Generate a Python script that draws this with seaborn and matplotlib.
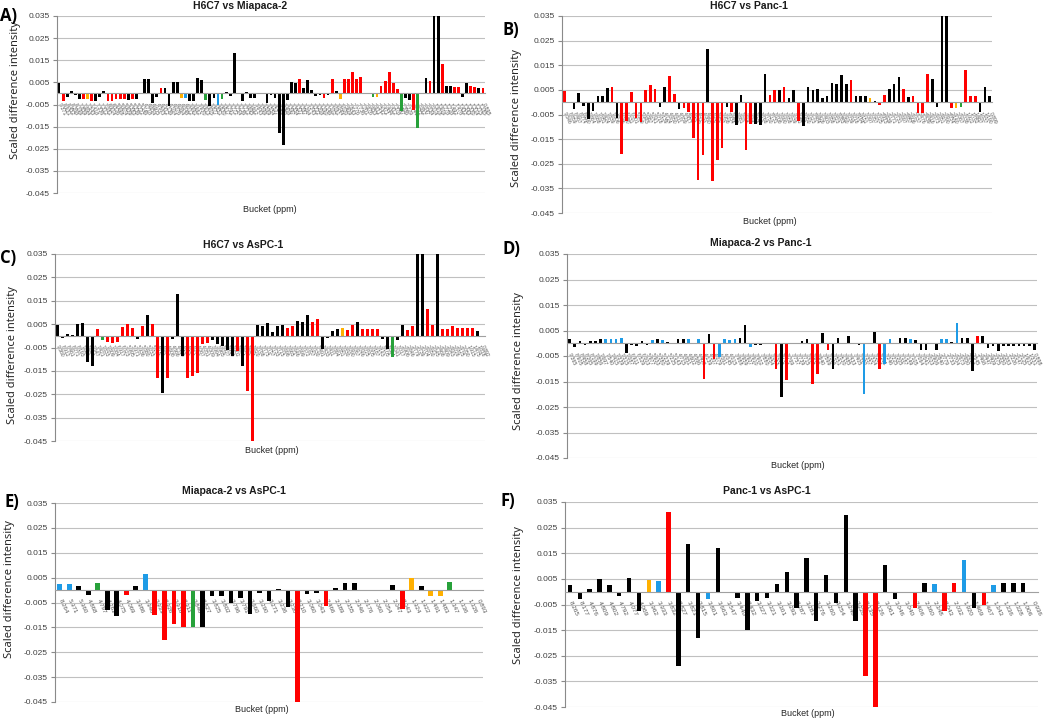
import numpy as np
import pandas as pd
import matplotlib
matplotlib.use("Agg")
import matplotlib.pyplot as plt
import seaborn as sns

sns.set_theme(style="white")
plt.rcParams["font.family"] = ["Liberation Sans", "DejaVu Sans"]

# ---- data: scaled difference intensity per bucket, class code per bar ----
# class codes: k = black, r = red, o = orange, b = blue, g = green
vals_a = [0.0045, -0.0035, -0.0015, 0.001, -0.0005, -0.0025, -0.0025, -0.0025, -0.0035, -0.0035,
          -0.0015, 0.001, -0.0035, -0.0035, -0.0025, -0.0025, -0.0025, -0.003, -0.0025, -0.0025,
          0.0, 0.0065, 0.0065, -0.0045, -0.0015, 0.0025, 0.0025, -0.0055, 0.005, 0.005,
          -0.002, -0.002, -0.0035, -0.0035, 0.007, 0.006, -0.003, -0.0055, -0.002, -0.005,
          -0.0025, 0.0005, -0.001, 0.0185, 0.0, -0.0035, 0.0005, -0.002, -0.002, 0.0,
          0.0003, -0.0045, -0.0008, -0.002, -0.018, -0.0235, -0.003, 0.005, 0.0045, 0.0065,
          0.0025, 0.006, 0.0015, -0.001, -0.0008, -0.002, -0.0008, 0.0065, 0.0012, -0.0025,
          0.0065, 0.0065, 0.0095, 0.0065, 0.0075, 0.0003, 0.0003, -0.0015, -0.0015, 0.0035,
          0.0055, 0.0095, 0.0045, 0.002, -0.008, -0.002, -0.003, -0.0075, -0.0155, 0.0,
          0.007, 0.0055, 0.04, 0.04, 0.0135, 0.0035, 0.0035, 0.003, 0.003, -0.0015,
          0.0045, 0.0035, 0.003, 0.0025, 0.0025]
cls_a = ("krkkkkrork" "kkrrrrrkrk" "kkkkkrkkkk" "obkkkkgkkb" "gkkkkkkkkk"
         "kkkkkkkkkr" "kkkkkrkrko" "rrrrrkkgor" "rrrrgkkrgk" "krkkrkkrrk" "krrkr")
buckets_a = ("9.371 8.931 8.452 8.268 8.196 7.859 7.694 7.543 7.418 7.336 "
             "7.312 7.081 6.914 6.526 5.998 5.974 5.939 5.383 5.236 5.222 "
             "5.146 4.718 4.654 4.605 4.563 4.412 4.136 4.104 4.076 4.064 "
             "4.048 4.012 3.991 3.962 3.930 3.913 3.905 3.877 3.851 3.830 "
             "3.817 3.791 3.772 3.754 3.736 3.712 3.695 3.662 3.643 3.596 "
             "3.569 3.554 3.527 3.488 3.430 3.408 3.397 3.354 3.327 3.287 "
             "3.264 3.243 3.222 3.208 3.190 3.146 3.102 3.061 3.044 3.020 "
             "2.909 2.843 2.776 2.736 2.701 2.676 2.653 2.611 2.542 2.471 "
             "2.444 2.412 2.378 2.347 2.286 2.229 2.144 2.122 2.062 2.047 "
             "2.034 2.014 1.918 1.906 1.778 1.728 1.492 1.478 1.432 1.343 "
             "1.330 1.314 1.215 1.185 0.895").split()

vals_b = [0.0045, 0.0, -0.0028, 0.0038, -0.0015, -0.007, -0.0035, 0.0025, 0.0025, 0.0058,
          0.006, -0.0063, -0.021, -0.0075, 0.004, -0.0065, -0.008, 0.005, 0.007, 0.0055,
          -0.0018, 0.006, 0.0105, 0.0035, -0.0028, -0.0025, -0.0038, -0.0145, -0.0315, -0.0215,
          0.0215, -0.032, -0.0235, -0.0185, -0.0018, -0.004, -0.0092, 0.003, -0.0195, -0.009,
          -0.009, -0.0092, 0.0115, 0.003, 0.005, 0.005, 0.0063, 0.0018, 0.005, -0.0075,
          -0.0095, 0.006, 0.0048, 0.0052, 0.0018, 0.0025, 0.0078, 0.0075, 0.011, 0.0075,
          0.009, 0.0025, 0.0025, 0.0025, 0.0018, 0.0003, -0.001, 0.003, 0.0052, 0.0072,
          0.0103, 0.0052, 0.0022, 0.0025, -0.0045, -0.0045, 0.0115, 0.0095, -0.002, 0.04,
          0.04, -0.0025, -0.0025, -0.0018, 0.013, 0.0025, 0.0025, -0.004, 0.0062, 0.0025]
cls_b = ("rkkkkkkkkk" "rkrrrrrrrr" "kkrrkrrrrr" "krrrkrkkrr" "kkkrrkrkkr"
         "kkkkkkkkkk" "rkkkokrrkk" "krkrrrrkkk" "krogrrrkkk")
buckets_b = ("9.346 8.859 8.467 8.274 8.190 7.864 7.688 7.551 7.424 7.339 "
             "7.306 7.078 6.920 6.531 6.001 5.969 5.943 5.387 5.241 5.218 "
             "5.139 4.724 4.650 4.611 4.559 4.417 4.131 4.109 4.071 4.060 "
             "4.043 4.017 3.987 3.958 3.934 3.909 3.881 3.855 3.826 3.813 "
             "3.795 3.768 3.750 3.731 3.708 3.690 3.658 3.639 3.592 3.565 "
             "3.550 3.523 3.484 3.426 3.403 3.358 3.323 3.283 3.260 3.239 "
             "3.218 3.194 3.151 3.097 3.057 3.025 2.913 2.839 2.771 2.731 "
             "2.697 2.657 2.606 2.537 2.476 2.439 2.416 2.373 2.351 2.290 "
             "2.234 2.140 2.067 2.038 1.922 1.782 1.487 1.337 1.190 0.899").split()

vals_c = [0.0045, -0.001, 0.0008, 0.0005, 0.005, 0.0055, -0.011, -0.013, 0.0028, -0.002,
          -0.0025, -0.003, -0.0025, 0.0038, 0.0052, 0.0033, -0.0013, 0.0042, 0.009, 0.005,
          -0.018, -0.0245, -0.018, -0.0013, 0.0178, -0.0085, -0.018, -0.017, -0.016, -0.0035,
          -0.003, -0.0018, -0.0035, -0.0045, -0.006, -0.0085, -0.0065, -0.013, -0.0235, -0.045,
          0.0048, 0.004, 0.0055, 0.0015, 0.004, 0.0048, 0.0035, 0.004, 0.0065, 0.006,
          0.009, 0.006, 0.007, -0.0055, -0.001, 0.002, 0.003, 0.0035, 0.0025, 0.0045,
          0.006, 0.003, 0.003, 0.003, 0.003, -0.0015, -0.0055, -0.009, -0.002, 0.0048,
          0.0025, 0.004, 0.04, 0.04, 0.0115, 0.0045, 0.04, 0.003, 0.003, 0.004,
          0.0033, 0.0033, 0.0033, 0.0033, 0.002, -0.0005]
cls_c = ("kkkkkkkkrg" "rrrrrrkrkr" "rkrkkkrrrr" "rkkkkkrkrr" "kkkkkkrrkk"
         "krrkkkkorr" "krrrrkkgkk" "rrkkrrkrrr" "rrrrkk")
buckets_c = ("9.360 8.912 8.461 8.271 8.193 7.861 7.691 7.547 7.421 7.333 "
             "7.309 7.084 6.917 6.523 5.995 5.971 5.936 5.380 5.233 5.149 "
             "4.721 4.657 4.608 4.566 4.415 4.133 4.101 4.073 4.067 4.051 "
             "4.009 3.994 3.965 3.927 3.916 3.902 3.874 3.848 3.833 3.820 "
             "3.788 3.775 3.757 3.733 3.715 3.698 3.665 3.646 3.599 3.572 "
             "3.557 3.530 3.491 3.433 3.411 3.394 3.351 3.330 3.290 3.267 "
             "3.246 3.225 3.205 3.187 3.143 3.105 3.064 3.041 3.017 2.906 "
             "2.846 2.779 2.739 2.704 2.650 2.545 2.468 2.409 2.343 2.226 "
             "2.125 2.050 1.915 1.475 1.318 0.892").split()

vals_d = [0.0015, -0.0015, 0.0008, -0.0005, 0.0008, 0.001, 0.0018, 0.0015, 0.0015, 0.0018,
          0.002, -0.004, -0.0005, -0.001, 0.001, -0.0007, 0.0012, 0.0015, 0.0012, 0.0003,
          0.0, 0.0018, 0.0015, 0.0018, 0.0, 0.0015, -0.014, 0.0035, -0.006, -0.0055,
          0.0015, 0.0012, 0.0018, 0.002, 0.0072, -0.0015, -0.0005, -0.0005, 0.0, 0.0,
          -0.010, -0.021, -0.0145, 0.0, 0.0, 0.001, 0.0018, -0.016, -0.012, 0.004,
          -0.0025, -0.010, 0.002, 0.0, 0.003, 0.0, -0.0005, -0.020, 0.0, 0.0045,
          -0.010, -0.008, 0.0015, 0.0, 0.0022, 0.0022, 0.0015, 0.0012, -0.0025, -0.0025,
          0.0, -0.0025, 0.0015, 0.0018, 0.0005, 0.008, 0.002, 0.002, -0.011, 0.003,
          0.003, -0.0018, -0.001, -0.003, -0.001, -0.001, -0.001, -0.001, -0.001, -0.001,
          -0.0025]
cls_d = ("kkkkkkkbbb" "bkkkkkbkbk" "kkkbkbrkrb" "bbbkkbkkkk" "rkrkkkkrrk"
         "rkkkkkkbkk" "rbbkkkbkkk" "kkbbkbkkkr" "kkkkkkkkkkk")
buckets_d = ("9.365 8.905 8.458 8.265 8.199 7.856 7.697 7.540 7.415 7.339 "
             "7.315 7.087 6.911 6.529 6.003 5.977 5.933 5.380 5.239 5.225 "
             "5.143 4.715 4.651 4.602 4.566 4.409 4.139 4.107 4.079 4.061 "
             "4.045 4.015 3.988 3.959 3.927 3.910 3.902 3.880 3.854 3.833 "
             "3.820 3.794 3.769 3.757 3.739 3.715 3.692 3.665 3.640 3.599 "
             "3.566 3.551 3.530 3.485 3.433 3.405 3.400 3.357 3.324 3.284 "
             "3.261 3.246 3.225 3.205 3.187 3.149 3.105 3.064 3.041 3.023 "
             "2.906 2.840 2.779 2.733 2.704 2.673 2.650 2.614 2.545 2.468 "
             "2.447 2.409 2.375 2.350 2.283 2.226 2.147 2.125 1.915 1.331 0.898").split()

vals_e = [0.0025, 0.0025, 0.0015, -0.002, 0.003, -0.008, -0.0105, -0.002, 0.0015, 0.0065,
          -0.010, -0.020, -0.0135, -0.015, -0.015, -0.015, -0.0025, -0.0025, -0.005, -0.003,
          -0.0095, -0.0012, -0.0045, 0.0003, -0.007, -0.045, -0.0017, -0.0012, -0.0065, 0.001,
          0.0028, 0.003, 0.0, 0.0, 0.0, 0.002, -0.0075, 0.005, 0.0015, -0.0025,
          -0.0025, 0.0033, 0.0002, 0.0002, 0.0]
cls_e = "bbkkgkkrkb" "rrrrgkkkkk" "kkkkkrkkrk" "kkkkkkroko" "ogkkk"
buckets_e = ("8.264 5.971 5.960 4.868 4.797 4.261 4.075 4.069 3.986 3.946 "
             "3.933 3.926 3.916 3.911 3.846 3.827 3.825 3.802 3.796 3.791 "
             "3.660 3.290 3.271 3.236 3.230 3.210 3.060 3.043 2.466 2.389 "
             "2.355 2.346 2.176 2.060 2.054 2.047 2.043 1.924 1.922 1.491 "
             "1.483 1.347 1.336 1.326 0.893").split()

vals_f = [0.0025, -0.003, 0.001, 0.005, 0.0025, -0.0015, 0.0055, -0.0075, 0.0045, 0.004,
          0.031, -0.029, 0.0185, -0.018, -0.003, 0.017, 0.0, -0.0025, -0.015, -0.0035,
          -0.0025, 0.003, 0.0075, -0.0065, 0.013, -0.0115, 0.0065, -0.0045, 0.030, -0.0115,
          -0.033, -0.045, 0.0105, -0.003, 0.0, -0.0065, 0.0035, 0.003, -0.0075, 0.0035,
          0.0125, -0.0065, -0.005, 0.0025, 0.0033, 0.0033, 0.0033, -0.0007]
cls_f = "kkkkkkkkob" "rkkkbkkkkk" "kkkkkkkkkk" "rrkkkrkbrr" "bkrbkkkk"
buckets_f = ("8.265 8.177 4.876 4.809 4.802 4.792 4.077 4.069 3.962 3.933 "
             "3.832 3.827 3.821 3.815 3.801 3.663 3.547 3.440 3.432 3.327 "
             "3.321 3.301 3.293 3.287 3.281 3.276 3.260 3.254 3.240 3.228 "
             "3.135 3.126 3.061 3.046 3.040 2.406 2.360 2.348 2.043 2.032 "
             "1.920 1.469 1.467 1.343 1.336 1.328 1.006 0.936").split()

titles = ["H6C7 vs Miapaca-2", "H6C7 vs Panc-1", "H6C7 vs AsPC-1",
          "Miapaca-2 vs Panc-1", "Miapaca-2 vs AsPC-1", "Panc-1 vs AsPC-1"]
letters = ["A)", "B)", "C)", "D)", "E)", "F)"]
yticks = [0.035, 0.025, 0.015, 0.005, -0.005, -0.015, -0.025, -0.035, -0.045]

palette = {"k": "#000000", "r": "#ff0000", "o": "#ffb000", "b": "#1e9be6", "g": "#27a13a"}

# ---- layout (pixels) ----
W, H = 1050, 718
fig = plt.figure(figsize=(10.5, 7.18), dpi=100)


def fx(x):
    return x / W


def fy(y):
    return 1 - y / H


panels = [
    # data, axes box (l, t, r, b), bar width, tick fontsize, title xy, bucket xy, ylabel xy, letter xy
    (vals_a, cls_a, buckets_a, (57, 16, 485, 193), 0.68, 3.8, (240, 6), (270, 209), (16, 90), (0, 16)),
    (vals_b, cls_b, buckets_b, (562, 16, 992, 213), 0.52, 3.6, (749, 6), (770, 221), (517, 118), (502, 30)),
    (vals_c, cls_c, buckets_c, (55, 254, 485, 441), 0.55, 3.6, (243, 245), (272, 451), (13, 355), (0, 258)),
    (vals_d, cls_d, buckets_d, (567, 254, 1037, 458), 0.5, 3.8, (761, 243), (798, 466), (519, 361), (502, 249)),
    (vals_e, cls_e, buckets_e, (55, 503, 483, 702), 0.5, 4.4, (234, 491), (262, 709), (10, 589), (4, 502)),
    (vals_f, cls_f, buckets_f, (565, 502, 1038, 707), 0.45, 4.6, (767, 491), (808, 714), (519, 595), (500, 501)),
]

for i, (vals, cls, buckets, box, bw, tfs, tpos, bpos, ypos, lpos) in enumerate(panels):
    l, t, r, b = box
    ax = fig.add_axes([fx(l), fy(b), fx(r - l), (b - t) / H])
    df = pd.DataFrame({"pos": range(len(vals)), "val": vals, "cls": list(cls)})
    sns.barplot(data=df, x="pos", y="val", hue="cls", palette=palette, dodge=False,
                width=bw, saturation=1, legend=False, errorbar=None, ax=ax, linewidth=0)
    ax.set_xlim(-0.5, len(vals) - 0.5)
    ax.set_ylim(-0.045, 0.035)
    ax.set_yticks(yticks)
    ax.set_yticklabels([f"{v:.3f}" for v in yticks], fontsize=6, color="#404040")
    ax.yaxis.grid(True, color="#c0c0c0", lw=0.8)
    ax.set_axisbelow(True)
    for s in ["top", "right"]:
        ax.spines[s].set_visible(False)
    ax.spines["left"].set_color("#8a8a8a")
    ax.spines["left"].set_linewidth(0.8)
    ax.spines["bottom"].set_position(("data", 0))
    ax.spines["bottom"].set_color("#a0a0a0")
    ax.spines["bottom"].set_linewidth(0.8)
    ax.tick_params(axis="y", length=3, width=0.8, color="#8a8a8a", pad=2, left=True)
    ax.set_xticks(range(len(vals)))
    ax.set_xticklabels(buckets, rotation=-65, ha="left", va="center",
                       rotation_mode="anchor", fontsize=tfs, color="#555555")
    ax.tick_params(axis="x", length=0, pad=7)
    ax.set_xlabel("")
    ax.set_ylabel("")

    fig.text(fx(tpos[0]), fy(tpos[1]), titles[i], ha="center", va="center",
             fontsize=7.5, fontweight="bold", color="#1a1a1a")
    fig.text(fx(bpos[0]), fy(bpos[1]), "Bucket (ppm)", ha="center", va="center",
             fontsize=6.5, color="#262626")
    fig.text(fx(ypos[0]), fy(ypos[1]), "Scaled difference intensity", ha="center", va="center",
             rotation=90, fontsize=8, color="#262626", family=["Noto Sans", "DejaVu Sans"])
    fig.text(fx(lpos[0]), fy(lpos[1]), letters[i], ha="left", va="center",
             fontsize=12, fontweight="bold", color="#000000", family=["Open Sans", "DejaVu Sans"])

fig.savefig("out.png", dpi=100)
